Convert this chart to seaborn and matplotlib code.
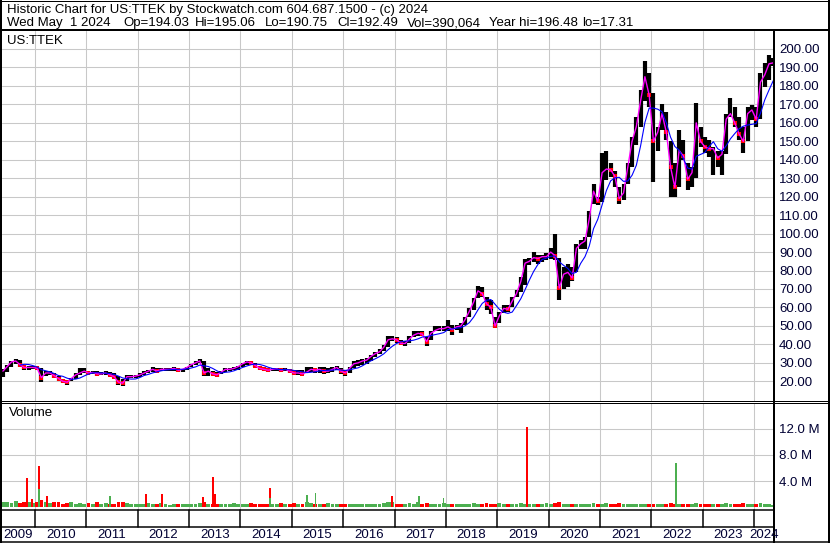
import numpy as np
import pandas as pd
import matplotlib
matplotlib.use("Agg")
import matplotlib.pyplot as plt
from matplotlib.lines import Line2D
import seaborn as sns

#%% Data - monthly bars, May 2009 .. May 2024

month_close = [
    25.5, 28.0, 30.5, 31.0, 29.0, 27.5, 27.5, 27.5,                          # 2009
    27.0, 22.0, 24.5, 24.5, 23.0, 21.5, 20.0, 19.5, 21.5, 23.5, 24.5, 25.5,  # 2010
    24.5, 24.8, 24.0, 24.0, 24.5, 23.5, 22.5, 19.5, 19.0, 22.5, 22.5, 22.8,  # 2011
    23.5, 24.5, 25.5, 26.5, 25.5, 26.5, 26.5, 26.5, 27.0, 26.0, 26.5, 27.5,  # 2012
    29.0, 30.0, 31.0, 24.5, 25.5, 24.0, 23.5, 25.0, 26.5, 26.5, 27.0, 28.0,  # 2013
    29.5, 30.5, 30.0, 28.5, 27.0, 26.5, 26.0, 26.5, 26.8, 26.0, 26.5, 25.5,  # 2014
    24.5, 24.5, 24.0, 25.0, 26.5, 26.0, 26.5, 25.5, 25.5, 26.5, 27.5, 25.5,  # 2015
    24.5, 27.0, 29.5, 30.0, 31.0, 31.5, 33.5, 35.0, 36.0, 38.5, 42.5, 43.0,  # 2016
    42.5, 40.5, 40.5, 43.0, 45.0, 46.0, 45.5, 41.5, 46.0, 47.5, 48.5, 48.5,  # 2017
    49.5, 48.0, 49.5, 50.0, 53.5, 58.0, 63.0, 69.0, 67.5, 62.0, 60.0, 50.0,  # 2018
    55.5, 59.5, 59.0, 63.5, 67.5, 74.0, 84.0, 85.0, 87.0, 86.5, 87.5, 87.5,  # 2019
    90.0, 88.0, 70.5, 78.0, 79.0, 76.0, 92.0, 94.5, 96.0, 108.0, 123.0, 117.5,  # 2020
    133.0, 135.0, 134.5, 131.0, 119.0, 122.0, 136.0, 150.0, 158.0, 172.0, 185.0, 175.0,  # 2021
    150.0, 155.0, 165.0, 155.0, 136.0, 125.0, 145.0, 142.0, 129.5, 133.0, 160.0, 150.0,  # 2022
    147.0, 146.0, 146.0, 141.0, 143.0, 162.0, 165.0, 160.0, 154.0, 150.0, 165.0, 167.0,  # 2023
    162.0, 182.0, 186.0, 192.0, 192.49,                                      # 2024
]

month_high = [
    26.5, 29.0, 31.0, 32.0, 31.5, 29.0, 28.5, 28.5,
    28.0, 27.0, 25.4, 25.4, 24.5, 22.7, 21.2, 20.9, 21.8, 24.5, 27.0, 27.0,
    25.4, 25.4, 25.4, 25.0, 25.4, 25.0, 24.5, 22.7, 21.2, 23.5, 23.5, 23.6,
    24.5, 25.4, 26.3, 28.0, 27.0, 27.2, 27.2, 27.2, 27.7, 27.2, 26.7, 28.0,
    29.5, 30.8, 32.0, 31.0, 27.0, 25.8, 24.8, 25.8, 27.2, 27.2, 27.8, 28.5,
    29.8, 31.0, 31.0, 30.0, 28.5, 27.7, 27.0, 27.0, 27.2, 27.2, 27.2, 26.8,
    26.0, 26.3, 26.0, 27.5, 27.7, 27.2, 28.0, 27.5, 27.0, 27.8, 28.5, 27.2,
    26.3, 28.0, 30.8, 31.3, 32.0, 32.6, 34.4, 36.0, 37.4, 39.8, 44.6, 44.6,
    44.0, 42.5, 41.6, 44.3, 47.0, 47.5, 47.0, 44.0, 47.0, 49.7, 49.7, 50.0,
    53.0, 50.6, 50.6, 51.8, 55.0, 59.6, 65.0, 71.6, 71.3, 65.6, 64.0, 55.0,
    57.8, 61.4, 61.4, 65.9, 69.5, 76.6, 86.0, 86.7, 90.0, 88.3, 88.3, 89.4,
    92.0, 100.0, 87.0, 82.0, 83.7, 82.0, 94.5, 96.4, 98.2, 112.0, 127.0, 120.0,
    143.4, 145.0, 138.0, 134.0, 125.0, 127.0, 138.0, 152.5, 163.0, 177.8, 193.7, 186.8,
    176.0, 158.0, 170.0, 166.0, 150.0, 138.0, 156.0, 150.6, 138.0, 136.0, 170.5, 158.0,
    152.4, 150.6, 147.0, 145.0, 145.0, 165.0, 173.2, 168.7, 163.0, 157.9, 168.7, 169.6,
    168.7, 186.8, 192.2, 196.48, 195.06,
]

month_low = [
    22.5, 25.0, 27.5, 29.5, 28.0, 26.2, 26.0, 26.5,
    26.5, 19.5, 22.7, 23.6, 21.8, 20.0, 19.0, 18.2, 20.0, 21.2, 23.5, 24.5,
    23.6, 23.8, 22.7, 23.2, 23.6, 22.7, 21.8, 18.2, 17.31, 20.0, 21.8, 21.8,
    22.3, 23.6, 24.5, 24.8, 24.5, 25.4, 25.4, 25.4, 25.6, 24.8, 24.8, 26.2,
    27.5, 29.0, 29.8, 23.0, 22.7, 23.2, 22.3, 23.8, 25.0, 25.6, 26.0, 26.2,
    27.6, 29.0, 29.0, 27.5, 26.2, 25.5, 24.8, 25.5, 25.6, 24.8, 25.5, 24.5,
    23.5, 23.6, 23.2, 24.5, 24.9, 24.5, 24.5, 24.2, 24.5, 25.0, 26.0, 24.0,
    22.7, 24.5, 27.2, 28.5, 29.0, 29.5, 30.8, 33.0, 34.9, 36.2, 38.5, 42.0,
    41.0, 39.8, 38.9, 41.0, 43.9, 44.6, 44.5, 38.9, 42.5, 47.0, 47.0, 47.5,
    47.5, 45.2, 48.0, 46.4, 50.6, 55.0, 58.7, 65.0, 65.5, 58.4, 56.6, 48.8,
    51.8, 56.9, 57.8, 60.5, 65.5, 68.6, 72.0, 83.0, 84.7, 83.8, 84.7, 85.6,
    86.0, 85.5, 64.0, 70.0, 71.0, 74.6, 79.0, 91.8, 91.8, 98.0, 116.0, 115.4,
    117.0, 129.0, 130.7, 125.0, 116.0, 118.0, 127.0, 136.0, 148.0, 158.0, 172.0, 168.7,
    128.0, 145.0, 156.0, 150.6, 120.0, 120.0, 125.0, 140.0, 123.5, 125.0, 130.0, 147.0,
    143.4, 141.6, 131.6, 136.0, 131.6, 143.0, 163.3, 157.9, 150.6, 143.4, 150.0, 161.5,
    158.0, 162.0, 179.6, 183.0, 190.75,
]

# volume in millions
month_volume = [
    0.9, 0.8, 0.7, 1.0, 0.7, 0.8, 0.9, 0.7,
    0.9, 1.1, 0.8, 0.7, 0.9, 0.8, 0.6, 0.7, 0.8, 0.6, 0.7, 0.6,
    0.7, 0.6, 0.8, 0.6, 0.7, 0.5, 0.6, 0.9, 0.8, 0.7, 0.5, 0.6,
    0.6, 0.5, 0.7, 0.5, 0.6, 0.7, 0.5, 0.4, 0.5, 0.6, 0.5, 0.6,
    0.5, 0.6, 0.7, 0.9, 0.6, 0.5, 0.6, 0.5, 0.6, 0.5, 0.7, 0.5,
    0.6, 0.5, 0.7, 0.6, 0.5, 0.6, 0.5, 0.6, 0.5, 0.7, 0.6, 0.5,
    0.7, 0.6, 0.6, 0.8, 0.7, 0.6, 0.5, 0.6, 0.7, 0.5, 0.6, 0.5,
    0.6, 0.5, 0.6, 0.5, 0.6, 0.5, 0.6, 0.5, 0.6, 0.7, 0.8, 0.9,
    0.6, 0.5, 0.6, 0.7, 0.6, 0.8, 0.6, 0.7, 0.5, 0.6, 0.5, 0.7,
    0.5, 0.6, 0.5, 0.6, 0.5, 0.6, 0.7, 0.5, 0.6, 0.7, 0.5, 0.6,
    0.7, 0.6, 0.5, 0.6, 0.5, 0.7, 0.6, 0.6, 0.5, 0.6, 0.5, 0.7,
    0.6, 0.7, 0.9, 0.6, 0.5, 0.6, 0.5, 0.6, 0.5, 0.6, 0.7, 0.5,
    0.6, 0.7, 0.5, 0.6, 0.7, 0.5, 0.6, 0.5, 0.6, 0.5, 0.6, 0.5,
    0.6, 0.5, 0.6, 0.5, 0.7, 0.6, 0.5, 0.6, 0.5, 0.6, 0.7, 0.5,
    0.6, 0.5, 0.6, 0.5, 0.6, 0.7, 0.6, 0.5, 0.6, 0.7, 0.6, 0.5,
    0.6, 0.7, 0.6, 0.6, 0.4,
]

# single-day volume spikes (decimal year, millions, up day?)
spike_time = [2009.84, 2009.94, 2010.08, 2010.08, 2010.23, 2011.46, 2012.16, 2012.47,
              2013.27, 2013.47, 2013.50, 2014.58, 2014.58, 2015.30, 2015.46, 2016.95,
              2017.48, 2017.95, 2019.58, 2022.48]
spike_vol = [4.5, 1.35, 6.3, 2.8, 1.7, 1.75, 2.0, 2.0,
             1.6, 4.6, 2.0, 3.0, 1.4, 1.9, 2.2, 1.75,
             1.75, 1.4, 12.2, 6.75]
spike_up = [False, False, False, True, False, True, False, False,
            False, False, False, False, True, True, True, False,
            True, True, False, True]

year_starts = list(range(2010, 2025))
year_labels = [str(y) for y in range(2009, 2025)]
price_ticks = list(range(20, 201, 10))
vol_ticks = [4, 8, 12]

header_1 = "Historic Chart for US:TTEK by Stockwatch.com 604.687.1500 - (c) 2024"
header_2 = [("Wed May  1 2024", 7), ("Op=194.03", 123), ("Hi=195.06", 195),
            ("Lo=190.75", 265), ("Cl=192.49", 337), ("Vol=390,064", 407),
            ("Year hi=196.48", 489), ("lo=17.31", 582)]

#%% Frame

df = pd.DataFrame({"close": month_close, "high": month_high,
                   "low": month_low, "vol": month_volume})
df["t"] = 2009 + 4 / 12 + (np.arange(len(df)) + 0.5) / 12
df["ma"] = df["close"].rolling(5).mean()
df["up"] = df["close"].diff().fillna(0) >= 0

RED = "#ff0000"
GREEN = "#4caf50"
GRID = "#c8c8c8"
LBL = "#000033"
FS = 9.5

#%% Plot

sns.set_theme(style="white")
plt.rcParams["font.family"] = ["Liberation Sans", "DejaVu Sans"]

W, H = 830, 543
fig = plt.figure(figsize=(W / 100, H / 100), dpi=100)
fig.patch.set_facecolor("white")


def fx(px):
    return px / W


def fy(py):
    return 1 - py / H


def hline(y, xa, xb, lw):
    fig.add_artist(Line2D([fx(xa), fx(xb)], [fy(y), fy(y)], color="black",
                          lw=lw * 0.72, transform=fig.transFigure))


def vline(x, ya, yb, lw):
    fig.add_artist(Line2D([fx(x), fx(x)], [fy(ya), fy(yb)], color="black",
                          lw=lw * 0.72, transform=fig.transFigure))


X0, X1 = 2, 774
PX_YEAR = 51.36
t0 = 2010 - (35 - X0) / PX_YEAR
t1 = 2010 + (X1 - 35) / PX_YEAR


def px_of(t):
    return 35 + (t - 2010) * PX_YEAR


ax = fig.add_axes([fx(X0), fy(401), fx(X1 - X0), (401 - 31) / H])
axv = fig.add_axes([fx(X0), fy(510), fx(X1 - X0), (510 - 403) / H])

# price panel
ax.vlines(df["t"], df["low"], df["high"], color="black", lw=3.0, zorder=2)
sns.scatterplot(data=df[~df["up"]], x="t", y="close", ax=ax, color=RED,
                marker="s", s=6, linewidth=0, zorder=3)
sns.lineplot(data=df, x="t", y="close", ax=ax, color="#ff00ff", lw=1.0, zorder=4)
sns.lineplot(data=df, x="t", y="ma", ax=ax, color="#0000ff", lw=0.8, zorder=5)

ax.set_xlim(t0, t1)
ax.set_ylim(9.33, 209.75)
ax.set_xticks(year_starts)
ax.set_yticks(price_ticks)
ax.set_yticklabels([f"{v:.2f}" for v in price_ticks])
ax.yaxis.tick_right()
ax.grid(True, color=GRID, lw=0.75)
ax.set_axisbelow(True)
ax.tick_params(axis="y", length=0, pad=3.6, labelsize=FS, labelcolor=LBL)
ax.tick_params(axis="x", length=0, labelbottom=False)
ax.set_xlabel("")
ax.set_ylabel("")
for s in ax.spines.values():
    s.set_visible(False)
fig.text(fx(7), fy(41.3), "US:TTEK", ha="left", va="center", fontsize=FS, color="black")

# volume panel
axv.bar(df["t"], df["vol"], width=0.9 / 12,
        color=np.where(df["up"], GREEN, RED), lw=0, zorder=2)
axv.bar(spike_time, spike_vol, width=0.03,
        color=[GREEN if u else RED for u in spike_up], lw=0, zorder=3)
axv.set_xlim(t0, t1)
axv.set_ylim(-0.38, 15.88)
axv.set_xticks(year_starts)
axv.set_yticks(vol_ticks)
axv.set_yticklabels([f"{v:.1f} M" for v in vol_ticks])
axv.yaxis.tick_right()
axv.grid(True, color=GRID, lw=0.75)
axv.set_axisbelow(True)
axv.tick_params(axis="y", length=0, pad=3.6, labelsize=FS, labelcolor=LBL)
axv.tick_params(axis="x", length=0, labelbottom=False)
for s in axv.spines.values():
    s.set_visible(False)
fig.text(fx(9), fy(413.3), "Volume", ha="left", va="center", fontsize=FS, color="black")

# header
fig.text(fx(7), fy(10), header_1, ha="left", va="center", fontsize=FS, color="black")
for txt, xpos in header_2:
    fig.text(fx(xpos), fy(23.3), txt, ha="left", va="center", fontsize=FS, color="black")

# frame lines
hline(0.5, 0, W, 1)
hline(30.3, 0, W, 2)
hline(400.7, 0, W, 1)
hline(402.7, 0, W, 1)
hline(510, 0, 774, 1.5)
hline(527, 0, 774, 1.5)
hline(542, 0, W, 1.5)
vline(1, 0, H, 2)
vline(828.5, 0, H, 2)
vline(774.3, 30, H, 2)

# year band
for y in year_starts:
    vline(px_of(y), 510, 527, 1.5)
for lab in year_labels:
    y = int(lab)
    a = max(px_of(y), X0)
    b = min(px_of(y + 1), X1)
    fig.text(fx((a + b) / 2), fy(535), lab, ha="center", va="center",
             fontsize=FS, color=LBL)

fig.savefig("out.png", dpi=100, facecolor="white")
